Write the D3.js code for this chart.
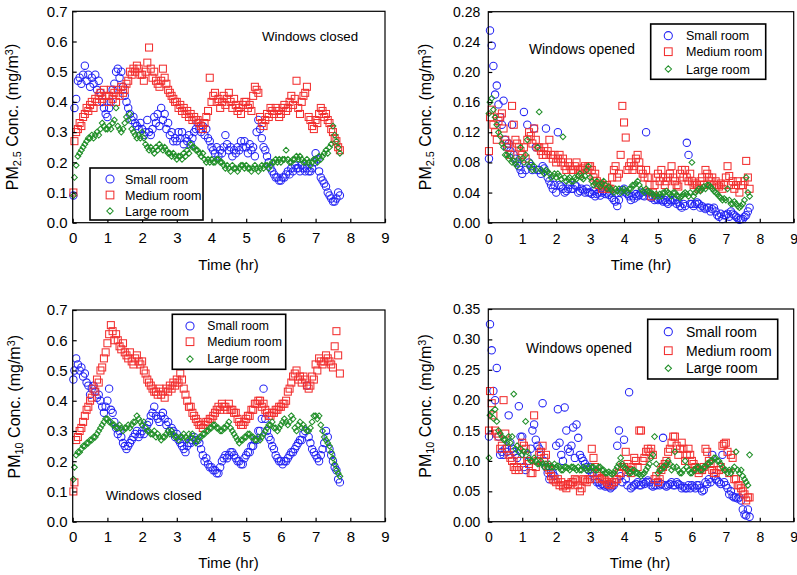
<!DOCTYPE html>
<html><head><meta charset="utf-8">
<script src="https://cdn.jsdelivr.net/npm/d3@7"></script>
<style>
body{margin:0;background:#fff}
svg{display:block}
text{font-family:"Liberation Sans",Arial,Helvetica,sans-serif;fill:#000}
</style>
</head><body>
<svg id="chart" width="797" height="575"></svg>
<script>
// ---------------- DATA ----------------
const times = [
0.02,0.05,0.1,0.15,0.2,0.25,0.3,0.35,0.4,0.45,
0.5,0.55,0.6,0.65,0.7,0.75,0.8,0.85,0.9,0.95,
1,1.05,1.1,1.15,1.2,1.25,1.3,1.35,1.4,1.45,
1.5,1.55,1.6,1.65,1.7,1.75,1.8,1.85,1.9,1.95,
2,2.05,2.1,2.15,2.2,2.25,2.3,2.35,2.4,2.45,
2.5,2.55,2.6,2.65,2.7,2.75,2.8,2.85,2.9,2.95,
3,3.05,3.1,3.15,3.2,3.25,3.3,3.35,3.4,3.45,
3.5,3.55,3.6,3.65,3.7,3.75,3.8,3.85,3.9,3.95,
4,4.05,4.1,4.15,4.2,4.25,4.3,4.35,4.4,4.45,
4.5,4.55,4.6,4.65,4.7,4.75,4.8,4.85,4.9,4.95,
5,5.05,5.1,5.15,5.2,5.25,5.3,5.35,5.4,5.45,
5.5,5.55,5.6,5.65,5.7,5.75,5.8,5.85,5.9,5.95,
6,6.05,6.1,6.15,6.2,6.25,6.3,6.35,6.4,6.45,
6.5,6.55,6.6,6.65,6.7,6.75,6.8,6.85,6.9,6.95,
7,7.05,7.1,7.15,7.2,7.25,7.3,7.35,7.4,7.45,
7.5,7.55,7.6,7.65,7.7];

// PM2.5, windows closed
const pm25ClosedSmall = [
0.09,0.38,0.41,0.47,0.48,0.46,0.49,0.52,0.47,0.49,
0.45,0.48,0.46,0.49,0.44,0.47,0.43,0.40,0.38,0.36,
0.35,0.38,0.40,0.44,0.46,0.50,0.51,0.48,0.50,0.45,
0.42,0.40,0.38,0.36,0.34,0.35,0.33,0.32,0.31,0.33,
0.31,0.29,0.30,0.34,0.30,0.29,0.31,0.35,0.33,0.36,
0.32,0.38,0.34,0.36,0.31,0.33,0.29,0.30,0.27,0.28,
0.27,0.30,0.28,0.30,0.26,0.28,0.27,0.29,0.26,0.28,
0.30,0.31,0.33,0.31,0.30,0.32,0.29,0.31,0.28,0.27,
0.25,0.24,0.23,0.25,0.22,0.24,0.23,0.25,0.29,0.26,
0.24,0.25,0.22,0.24,0.23,0.25,0.24,0.27,0.25,0.27,
0.25,0.23,0.26,0.24,0.25,0.22,0.30,0.34,0.31,0.28,
0.25,0.24,0.22,0.20,0.18,0.17,0.16,0.15,0.15,0.14,
0.14,0.15,0.15,0.16,0.17,0.16,0.18,0.17,0.19,0.18,
0.18,0.17,0.19,0.18,0.17,0.18,0.17,0.17,0.18,0.20,
0.23,0.21,0.17,0.15,0.14,0.13,0.12,0.10,0.09,0.08,
0.07,0.07,0.08,0.10,0.09];
const pm25ClosedMedium = [
0.10,0.27,0.30,0.31,0.33,0.32,0.35,0.36,0.38,0.37,
0.39,0.40,0.38,0.41,0.40,0.42,0.43,0.41,0.44,0.42,
0.40,0.42,0.44,0.41,0.43,0.40,0.44,0.42,0.45,0.43,
0.44,0.46,0.47,0.50,0.49,0.51,0.50,0.52,0.51,0.49,
0.49,0.47,0.50,0.53,0.58,0.51,0.48,0.50,0.47,0.46,
0.45,0.47,0.51,0.48,0.46,0.44,0.43,0.42,0.41,0.40,
0.40,0.38,0.39,0.37,0.38,0.36,0.37,0.35,0.36,0.34,
0.35,0.34,0.34,0.33,0.32,0.31,0.33,0.35,0.37,0.48,
0.40,0.42,0.43,0.40,0.41,0.38,0.40,0.42,0.39,0.41,
0.43,0.40,0.38,0.41,0.39,0.37,0.38,0.36,0.39,0.40,
0.40,0.38,0.39,0.37,0.42,0.45,0.44,0.43,0.35,0.33,
0.32,0.34,0.36,0.35,0.38,0.37,0.36,0.38,0.37,0.35,
0.36,0.38,0.39,0.37,0.38,0.40,0.42,0.39,0.41,0.47,
0.38,0.36,0.40,0.42,0.43,0.45,0.35,0.34,0.32,0.31,
0.34,0.33,0.36,0.38,0.37,0.35,0.36,0.34,0.33,0.31,
0.30,0.28,0.27,0.25,0.24];
const pm25ClosedLarge = [
0.09,0.15,0.19,0.22,0.23,0.24,0.25,0.26,0.27,0.28,
0.28,0.29,0.28,0.29,0.30,0.29,0.31,0.33,0.32,0.31,
0.31,0.32,0.31,0.33,0.34,0.38,0.32,0.31,0.30,0.31,
0.33,0.35,0.34,0.36,0.31,0.30,0.29,0.28,0.29,0.28,
0.30,0.28,0.26,0.25,0.24,0.25,0.24,0.23,0.25,0.24,
0.26,0.25,0.24,0.25,0.24,0.23,0.23,0.22,0.23,0.22,
0.21,0.22,0.22,0.21,0.23,0.22,0.24,0.23,0.26,0.25,
0.25,0.24,0.24,0.23,0.22,0.23,0.21,0.20,0.21,0.20,
0.21,0.20,0.20,0.21,0.21,0.20,0.20,0.19,0.18,0.19,
0.18,0.17,0.19,0.18,0.18,0.17,0.18,0.19,0.19,0.18,
0.19,0.18,0.18,0.17,0.18,0.19,0.18,0.17,0.18,0.19,
0.18,0.19,0.19,0.18,0.19,0.20,0.20,0.21,0.20,0.21,
0.20,0.21,0.21,0.24,0.21,0.20,0.20,0.21,0.21,0.22,
0.21,0.22,0.21,0.20,0.20,0.21,0.20,0.19,0.20,0.21,
0.21,0.20,0.22,0.21,0.22,0.23,0.24,0.23,0.25,0.26,
0.32,0.29,0.27,0.25,0.23];

// PM2.5, windows opened
const pm25OpenSmall = [
0.085,0.255,0.235,0.208,0.17,0.182,0.157,0.14,0.13,0.162,
0.11,0.10,0.105,0.095,0.13,0.09,0.085,0.08,0.075,0.07,
0.065,0.147,0.07,0.13,0.08,0.075,0.07,0.125,0.10,0.07,
0.07,0.065,0.075,0.072,0.125,0.06,0.055,0.05,0.045,0.05,
0.04,0.12,0.05,0.048,0.045,0.04,0.042,0.045,0.05,0.045,
0.045,0.05,0.048,0.04,0.042,0.045,0.043,0.04,0.045,0.04,
0.04,0.038,0.042,0.035,0.038,0.04,0.036,0.04,0.042,0.038,
0.04,0.037,0.04,0.033,0.03,0.028,0.022,0.03,0.04,0.043,
0.045,0.04,0.038,0.035,0.03,0.035,0.032,0.038,0.035,0.037,
0.04,0.036,0.035,0.12,0.04,0.035,0.033,0.035,0.03,0.032,
0.03,0.032,0.03,0.028,0.03,0.027,0.025,0.03,0.028,0.03,
0.03,0.025,0.027,0.022,0.02,0.025,0.022,0.106,0.09,0.025,
0.025,0.022,0.025,0.027,0.025,0.02,0.022,0.02,0.018,0.02,
0.02,0.015,0.018,0.02,0.015,0.01,0.008,0.012,0.005,0.01,
0.01,0.012,0.008,0.015,0.012,0.01,0.008,0.006,0.004,0.005,
0.005,0.008,0.01,0.015,0.02];
const pm25OpenMedium = [
0.095,0.14,0.15,0.13,0.12,0.11,0.135,0.14,0.145,0.125,
0.11,0.105,0.10,0.09,0.155,0.13,0.11,0.105,0.10,0.095,
0.09,0.10,0.085,0.11,0.12,0.115,0.105,0.125,0.11,0.10,
0.10,0.095,0.09,0.10,0.09,0.095,0.11,0.09,0.085,0.09,
0.08,0.085,0.09,0.08,0.085,0.075,0.07,0.08,0.075,0.07,
0.07,0.075,0.08,0.07,0.065,0.07,0.072,0.075,0.07,0.075,
0.075,0.07,0.06,0.065,0.055,0.05,0.052,0.045,0.048,0.05,
0.05,0.045,0.045,0.06,0.07,0.075,0.06,0.065,0.09,0.155,
0.133,0.113,0.07,0.075,0.08,0.07,0.075,0.085,0.09,0.08,
0.07,0.065,0.06,0.07,0.06,0.05,0.035,0.04,0.05,0.06,
0.065,0.055,0.07,0.06,0.05,0.055,0.06,0.065,0.075,0.06,
0.055,0.05,0.048,0.065,0.07,0.06,0.07,0.06,0.055,0.065,
0.055,0.05,0.052,0.05,0.045,0.055,0.06,0.05,0.07,0.065,
0.06,0.055,0.06,0.05,0.055,0.05,0.048,0.052,0.045,0.05,
0.06,0.075,0.062,0.05,0.055,0.045,0.05,0.055,0.04,0.05,
0.05,0.055,0.082,0.06,0.045];
const pm25OpenLarge = [
0.145,0.16,0.165,0.15,0.14,0.13,0.12,0.115,0.105,0.10,
0.09,0.09,0.085,0.088,0.08,0.082,0.078,0.075,0.085,0.10,
0.085,0.08,0.09,0.11,0.075,0.08,0.07,0.075,0.07,0.10,
0.147,0.07,0.068,0.065,0.07,0.068,0.065,0.06,0.062,0.065,
0.06,0.065,0.062,0.058,0.114,0.06,0.055,0.058,0.06,0.055,
0.055,0.06,0.058,0.062,0.065,0.06,0.058,0.062,0.07,0.075,
0.06,0.055,0.05,0.052,0.055,0.05,0.048,0.052,0.055,0.05,
0.045,0.048,0.045,0.042,0.04,0.045,0.042,0.045,0.04,0.042,
0.045,0.042,0.04,0.045,0.045,0.05,0.05,0.052,0.055,0.05,
0.045,0.042,0.04,0.045,0.042,0.04,0.04,0.038,0.035,0.038,
0.035,0.038,0.035,0.04,0.04,0.042,0.04,0.038,0.035,0.04,
0.04,0.036,0.035,0.033,0.035,0.038,0.04,0.038,0.035,0.04,
0.08,0.035,0.04,0.042,0.045,0.042,0.045,0.048,0.045,0.05,
0.05,0.048,0.045,0.042,0.04,0.038,0.035,0.033,0.03,0.032,
0.03,0.045,0.03,0.025,0.025,0.028,0.025,0.022,0.02,0.022,
0.025,0.03,0.06,0.04,0.035];

// PM10, windows closed
const pm10ClosedSmall = [
0.47,0.50,0.54,0.52,0.50,0.51,0.48,0.49,0.46,0.45,
0.42,0.44,0.45,0.43,0.41,0.42,0.40,0.38,0.36,0.38,
0.40,0.44,0.37,0.36,0.33,0.31,0.29,0.30,0.28,0.26,
0.25,0.24,0.25,0.26,0.27,0.28,0.29,0.30,0.28,0.29,
0.30,0.29,0.31,0.32,0.33,0.35,0.36,0.38,0.35,0.34,
0.33,0.35,0.36,0.34,0.32,0.33,0.30,0.31,0.30,0.28,
0.29,0.27,0.26,0.25,0.24,0.23,0.25,0.26,0.26,0.27,
0.28,0.27,0.27,0.26,0.24,0.22,0.20,0.21,0.19,0.18,
0.18,0.17,0.17,0.16,0.16,0.18,0.20,0.21,0.22,0.21,
0.22,0.23,0.23,0.22,0.21,0.20,0.20,0.19,0.19,0.21,
0.22,0.23,0.23,0.25,0.25,0.27,0.27,0.30,0.30,0.34,
0.44,0.34,0.30,0.28,0.27,0.25,0.24,0.22,0.21,0.20,
0.20,0.19,0.20,0.20,0.21,0.22,0.23,0.23,0.24,0.25,
0.26,0.27,0.27,0.29,0.30,0.45,0.28,0.26,0.24,0.23,
0.22,0.21,0.20,0.22,0.24,0.26,0.30,0.28,0.24,0.22,
0.20,0.18,0.17,0.14,0.13];
const pm10ClosedMedium = [
0.10,0.13,0.27,0.28,0.30,0.31,0.33,0.35,0.37,0.38,
0.40,0.41,0.44,0.43,0.47,0.46,0.50,0.51,0.54,0.56,
0.59,0.62,0.65,0.63,0.60,0.62,0.60,0.58,0.57,0.59,
0.56,0.55,0.54,0.56,0.53,0.52,0.54,0.55,0.53,0.52,
0.53,0.50,0.49,0.47,0.46,0.45,0.44,0.43,0.43,0.42,
0.44,0.42,0.43,0.41,0.44,0.43,0.45,0.44,0.46,0.45,
0.47,0.46,0.49,0.47,0.44,0.42,0.40,0.38,0.38,0.36,
0.35,0.34,0.33,0.32,0.32,0.31,0.32,0.33,0.33,0.34,
0.34,0.35,0.36,0.37,0.38,0.37,0.39,0.38,0.38,0.37,
0.39,0.37,0.37,0.36,0.36,0.34,0.33,0.32,0.32,0.33,
0.34,0.35,0.35,0.37,0.37,0.39,0.39,0.40,0.40,0.38,
0.39,0.37,0.36,0.35,0.35,0.36,0.36,0.37,0.37,0.38,
0.38,0.39,0.39,0.40,0.43,0.44,0.46,0.48,0.49,0.50,
0.47,0.48,0.46,0.48,0.47,0.45,0.44,0.45,0.48,0.47,
0.52,0.50,0.54,0.53,0.52,0.53,0.55,0.54,0.53,0.52,
0.51,0.58,0.63,0.55,0.49];
const pm10ClosedLarge = [
0.14,0.18,0.22,0.23,0.23,0.24,0.25,0.25,0.26,0.26,
0.27,0.27,0.28,0.28,0.29,0.30,0.31,0.32,0.33,0.34,
0.34,0.33,0.33,0.32,0.32,0.31,0.31,0.32,0.31,0.30,
0.31,0.31,0.32,0.31,0.32,0.33,0.33,0.35,0.34,0.33,
0.32,0.33,0.31,0.30,0.30,0.29,0.29,0.30,0.28,0.29,
0.28,0.27,0.28,0.28,0.29,0.30,0.29,0.30,0.29,0.28,
0.28,0.27,0.28,0.28,0.29,0.28,0.27,0.29,0.28,0.29,
0.27,0.26,0.27,0.28,0.28,0.29,0.29,0.30,0.30,0.31,
0.31,0.32,0.32,0.31,0.31,0.30,0.30,0.31,0.31,0.32,
0.33,0.31,0.30,0.29,0.28,0.27,0.26,0.27,0.27,0.28,
0.28,0.29,0.29,0.28,0.28,0.27,0.27,0.28,0.27,0.28,
0.29,0.30,0.31,0.32,0.32,0.33,0.31,0.31,0.30,0.31,
0.32,0.33,0.34,0.33,0.32,0.33,0.35,0.34,0.31,0.30,
0.32,0.33,0.31,0.32,0.31,0.30,0.30,0.31,0.33,0.35,
0.35,0.34,0.35,0.32,0.30,0.28,0.27,0.26,0.25,0.23,
0.21,0.19,0.17,0.16,0.15];

// PM10, windows opened
const pm10OpenSmall = [
0.14,0.325,0.282,0.215,0.20,0.253,0.14,0.11,0.115,0.11,
0.12,0.115,0.175,0.13,0.12,0.115,0.11,0.105,0.19,0.14,
0.14,0.09,0.085,0.11,0.10,0.12,0.15,0.16,0.135,0.125,
0.12,0.11,0.195,0.10,0.09,0.08,0.07,0.08,0.08,0.075,
0.125,0.185,0.13,0.11,0.10,0.188,0.15,0.12,0.115,0.125,
0.155,0.105,0.16,0.138,0.11,0.105,0.10,0.095,0.09,0.085,
0.09,0.08,0.075,0.07,0.065,0.065,0.06,0.062,0.06,0.058,
0.06,0.058,0.055,0.058,0.06,0.065,0.125,0.15,0.075,0.065,
0.135,0.07,0.06,0.213,0.055,0.058,0.06,0.062,0.065,0.06,
0.06,0.065,0.062,0.065,0.068,0.065,0.06,0.058,0.06,0.06,
0.065,0.06,0.062,0.138,0.06,0.058,0.06,0.062,0.065,0.06,
0.06,0.065,0.062,0.06,0.055,0.058,0.055,0.055,0.06,0.055,
0.06,0.058,0.055,0.06,0.06,0.055,0.05,0.052,0.065,0.062,
0.07,0.065,0.11,0.075,0.07,0.068,0.065,0.062,0.11,0.065,
0.06,0.055,0.045,0.05,0.042,0.04,0.04,0.038,0.04,0.035,
0.02,0.012,0.01,0.02,0.008];
const pm10OpenMedium = [
0.15,0.215,0.195,0.175,0.15,0.145,0.14,0.12,0.125,0.20,
0.145,0.12,0.11,0.105,0.10,0.09,0.085,0.09,0.085,0.10,
0.13,0.125,0.12,0.10,0.095,0.08,0.08,0.175,0.09,0.10,
0.11,0.115,0.125,0.105,0.11,0.09,0.085,0.075,0.07,0.068,
0.065,0.07,0.06,0.065,0.058,0.06,0.055,0.062,0.06,0.065,
0.065,0.07,0.068,0.06,0.05,0.055,0.07,0.068,0.065,0.07,
0.07,0.12,0.105,0.09,0.08,0.075,0.07,0.072,0.07,0.068,
0.065,0.062,0.06,0.065,0.065,0.07,0.07,0.08,0.08,0.09,
0.09,0.115,0.095,0.085,0.08,0.09,0.105,0.10,0.09,0.15,
0.15,0.10,0.105,0.115,0.12,0.115,0.12,0.11,0.07,0.075,
0.065,0.07,0.085,0.09,0.095,0.10,0.115,0.12,0.13,0.14,
0.14,0.125,0.11,0.12,0.13,0.12,0.10,0.11,0.12,0.11,
0.10,0.095,0.09,0.085,0.08,0.085,0.085,0.09,0.12,0.115,
0.10,0.095,0.085,0.08,0.08,0.085,0.085,0.09,0.125,0.128,
0.13,0.115,0.08,0.11,0.105,0.07,0.07,0.06,0.06,0.055,
0.05,0.045,0.035,0.04,0.04];
const pm10OpenLarge = [
0.105,0.175,0.18,0.17,0.185,0.165,0.15,0.145,0.14,0.135,
0.135,0.13,0.14,0.13,0.14,0.21,0.12,0.125,0.115,0.12,
0.11,0.115,0.165,0.115,0.105,0.10,0.10,0.105,0.10,0.095,
0.095,0.10,0.095,0.09,0.095,0.09,0.095,0.09,0.09,0.095,
0.09,0.092,0.09,0.085,0.085,0.09,0.09,0.088,0.085,0.09,
0.09,0.088,0.085,0.09,0.085,0.085,0.09,0.088,0.085,0.09,
0.085,0.09,0.09,0.085,0.085,0.09,0.09,0.085,0.085,0.08,
0.08,0.082,0.08,0.078,0.08,0.085,0.09,0.095,0.105,0.095,
0.09,0.088,0.085,0.08,0.08,0.085,0.085,0.08,0.08,0.078,
0.075,0.078,0.08,0.085,0.09,0.095,0.105,0.11,0.14,0.095,
0.08,0.085,0.085,0.09,0.09,0.095,0.10,0.095,0.085,0.09,
0.115,0.09,0.085,0.08,0.08,0.085,0.10,0.09,0.085,0.08,
0.08,0.085,0.085,0.09,0.09,0.085,0.085,0.09,0.09,0.095,
0.095,0.10,0.10,0.105,0.105,0.10,0.10,0.095,0.09,0.085,
0.085,0.08,0.085,0.08,0.085,0.09,0.115,0.085,0.08,0.085,
0.075,0.07,0.065,0.06,0.11];

const roomNames = ["Small room", "Medium room", "Large room"];
const xTicks = [0,1,2,3,4,5,6,7,8,9];
const pm25ClosedTicks = [0,0.1,0.2,0.3,0.4,0.5,0.6,0.7];
const pm25OpenTicks = [0,0.04,0.08,0.12,0.16,0.20,0.24,0.28];
const pm10ClosedTicks = [0,0.1,0.2,0.3,0.4,0.5,0.6,0.7];
const pm10OpenTicks = [0,0.05,0.10,0.15,0.20,0.25,0.30,0.35];

// ---------------- STYLE / LAYOUT ----------------
const markerColors = ["#2424f4", "#f23030", "#22902a"];
const markerShapes = ["circle", "square", "diamond"];

const panels = [
  { series:[pm25ClosedSmall,pm25ClosedMedium,pm25ClosedLarge], yTicks:pm25ClosedTicks, yFmt:".1f", pm:"2.5",
    note:"Windows closed",
    px:[72.7,385], py:[222.7,11.3], tickFont:15, yPad:5, xPad:10,
    yLab:[17.5,117], xLab:[228.5,270], labFont:16, xLabFont:15,
    noteAt:[262,40.5], noteFont:13.3,
    leg:{x:90,y:168,w:113,h:52,rows:[179,195,211],mx:110,tx:125,font:12.5} },
  { series:[pm25OpenSmall,pm25OpenMedium,pm25OpenLarge], yTicks:pm25OpenTicks, yFmt:".2f", pm:"2.5",
    note:"Windows opened",
    px:[488.3,793.7], py:[222.7,11.7], tickFont:14, yPad:8, xPad:11,
    yLab:[430.5,117], xLab:[641,270], labFont:16, xLabFont:15,
    noteAt:[529,54], noteFont:13.8,
    leg:{x:650.7,y:24,w:115,h:55.3,rows:[35.7,51.7,69],mx:668.3,tx:686,font:12.5} },
  { series:[pm10ClosedSmall,pm10ClosedMedium,pm10ClosedLarge], yTicks:pm10ClosedTicks, yFmt:".1f", pm:"10",
    note:"Windows closed",
    px:[72.7,385], py:[521.7,310], tickFont:15, yPad:5, xPad:10,
    yLab:[20,406.7], xLab:[228.5,568], labFont:16, xLabFont:15,
    noteAt:[105.7,500.3], noteFont:13.3,
    leg:{x:172.3,y:314.3,w:113.4,h:55,rows:[326,341.7,359],mx:190,tx:207.3,font:12.2} },
  { series:[pm10OpenSmall,pm10OpenMedium,pm10OpenLarge], yTicks:pm10OpenTicks, yFmt:".2f", pm:"10",
    note:"Windows opened",
    px:[488.3,793.7], py:[521.7,309], tickFont:14, yPad:8, xPad:10,
    yLab:[430.5,406], xLab:[640,568], labFont:16, xLabFont:15,
    noteAt:[526,353.3], noteFont:13.8,
    leg:{x:647.7,y:319.3,w:130,h:59.7,rows:[331.7,350.7,368.3],mx:668.3,tx:686,font:14} }
];

// ---------------- DRAW ----------------
const svg = d3.select("#chart");

function drawMarker(g, shape, color, cx, cy, scale) {
  const s = scale || 1;
  if (shape === "circle") {
    g.append("circle").attr("cx", cx).attr("cy", cy).attr("r", 3.7 * s)
      .attr("fill", "none").attr("stroke", color).attr("stroke-width", 1.05);
  } else if (shape === "square") {
    const h = 3.5 * s;
    g.append("rect").attr("x", cx - h).attr("y", cy - h).attr("width", 2 * h).attr("height", 2 * h)
      .attr("fill", "none").attr("stroke", color).attr("stroke-width", 1.05);
  } else {
    const r = 2.9 * s;
    g.append("path").attr("d", `M${cx},${cy - r}L${cx + r},${cy}L${cx},${cy + r}L${cx - r},${cy}Z`)
      .attr("fill", "none").attr("stroke", color).attr("stroke-width", 1.05);
  }
}

panels.forEach(p => {
  const g = svg.append("g");
  const x = d3.scaleLinear().domain([0, 9]).range(p.px);
  const y = d3.scaleLinear().domain([0, d3.max(p.yTicks)]).range(p.py);

  // markers
  p.series.forEach((vals, si) => {
    const sg = g.append("g");
    vals.forEach((v, i) => {
      if (i < times.length) drawMarker(sg, markerShapes[si], markerColors[si], x(times[i]), y(v));
    });
  });

  // frame
  g.append("rect").attr("x", p.px[0]).attr("y", p.py[1])
    .attr("width", p.px[1] - p.px[0]).attr("height", p.py[0] - p.py[1])
    .attr("fill", "none").attr("stroke", "#000").attr("stroke-width", 1.2);

  // axes
  const xa = g.append("g").attr("transform", `translate(0,${p.py[0]})`)
    .call(d3.axisBottom(x).tickValues(xTicks).tickFormat(d3.format("d")).tickSize(-4).tickPadding(p.xPad));
  const ya = g.append("g").attr("transform", `translate(${p.px[0]},0)`)
    .call(d3.axisLeft(y).tickValues(p.yTicks).tickFormat(d3.format(p.yFmt)).tickSize(-4).tickPadding(p.yPad));
  [xa, ya].forEach(a => {
    a.select(".domain").remove();
    a.attr("font-family", null).attr("font-size", null);
    a.selectAll("line").attr("stroke", "#000").attr("stroke-width", 1.2);
    a.selectAll("text").attr("font-size", p.tickFont).attr("fill", "#000");
  });

  // x label
  g.append("text").attr("x", p.xLab[0]).attr("y", p.xLab[1]).attr("text-anchor", "middle")
    .attr("font-size", p.xLabFont).text("Time (hr)");

  // y label
  const yl = g.append("text").attr("text-anchor", "middle").attr("font-size", p.labFont)
    .attr("transform", `translate(${p.yLab[0]},${p.yLab[1]}) rotate(-90)`);
  yl.append("tspan").text("PM");
  yl.append("tspan").attr("font-size", p.labFont * 0.68).attr("dy", "0.3em").text(p.pm);
  yl.append("tspan").attr("dy", "-0.2em").text(" Conc. (mg/m");
  yl.append("tspan").attr("font-size", p.labFont * 0.68).attr("dy", "-0.45em").text("3");
  yl.append("tspan").attr("dy", "0.3em").text(")");

  // note
  g.append("text").attr("x", p.noteAt[0]).attr("y", p.noteAt[1]).attr("font-size", p.noteFont)
    .text(p.note);

  // legend
  const L = p.leg;
  const lg = g.append("g");
  lg.append("rect").attr("x", L.x).attr("y", L.y).attr("width", L.w).attr("height", L.h)
    .attr("fill", "#fff").attr("stroke", "#000").attr("stroke-width", 1.6);
  roomNames.forEach((name, i) => {
    drawMarker(lg, markerShapes[i], markerColors[i], L.mx, L.rows[i], 1.1);
    lg.append("text").attr("x", L.tx).attr("y", L.rows[i]).attr("dy", "0.36em")
      .attr("font-size", L.font).text(name);
  });
});
</script>
</body></html>
